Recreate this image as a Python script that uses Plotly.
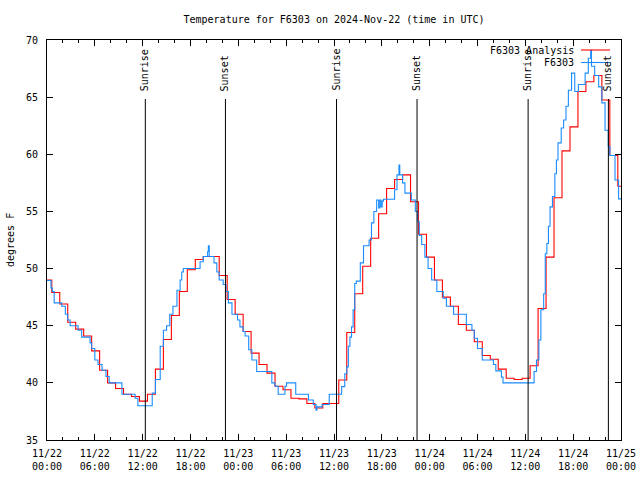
import pandas as pd
import plotly.graph_objects as go

TITLE = "Temperature for F6303 on 2024-Nov-22 (time in UTC)"
START = pd.Timestamp("2024-11-22 00:00")
END = pd.Timestamp("2024-11-25 00:00")

# F6303 Analysis (hourly analysis, values change ~36 min past each hour)
analysis_first_change = "2024-11-22 00:36"
analysis_temp = [
    49.0, 47.9, 46.9, 45.3, 44.7, 44.1, 42.8, 41.1, 40.0, 39.5, 39.0, 38.8,
    38.4, 39.0, 41.2, 43.8, 45.9, 48.0, 49.9, 50.8, 51.05, 51.05, 49.4, 47.3,
    46.0, 44.5, 42.6, 41.6, 40.85, 39.7, 39.4, 38.65, 38.6, 38.2, 37.8, 38.2,
    38.2, 40.25, 44.4, 47.8, 50.2, 52.65, 54.8, 57.0, 57.8, 58.2, 55.85, 53.0,
    51.0, 49.0, 47.5, 46.7, 45.1, 44.6, 43.6, 42.4, 42.06, 41.2, 40.4, 40.3,
    40.4, 41.5, 46.5, 51.0, 56.2, 60.3, 62.4, 65.5, 66.35, 66.9, 64.75, 59.9,
    57.2,
]

# F6303 observations: hours since 11/22 00:00 UTC and temperature (F)
obs_hours = [
    0.0, 0.5, 0.67, 0.9, 1.85, 2.3, 2.6, 2.9, 3.9, 4.35, 5.4, 5.6, 6.0, 6.4,
    6.9, 7.4, 7.8, 9.4, 11.05, 11.4, 13.2, 13.6, 14.2, 14.6, 15.0, 15.4, 15.8,
    16.3, 16.7, 16.9, 17.1, 19.2, 19.6, 20.15, 20.24, 20.35, 20.95, 21.3, 21.6,
    22.1, 22.45, 22.75, 23.2, 23.9, 24.2, 24.6, 24.85, 25.3, 25.7, 26.3, 28.2,
    28.6, 29.0, 29.85, 30.05, 31.2, 32.8, 33.4, 33.75, 33.85, 34.5, 35.4,
    36.96, 37.35, 37.6, 37.8, 38.0, 38.2, 38.4, 38.6, 38.8, 39.3, 39.7, 40.4,
    40.7, 41.0, 41.35, 41.6, 41.75, 41.9, 42.05, 42.2, 43.6, 43.9, 44.15,
    44.25, 44.6, 44.9, 45.7, 46.2, 46.5, 46.7, 47.0, 47.4, 47.8, 48.25, 48.9,
    49.7, 50.1, 51.0, 52.6, 53.3, 53.6, 54.0, 54.6, 56.0, 56.3, 57.0, 57.2,
    61.1, 61.4, 61.7, 61.95, 62.3, 62.5, 62.7, 62.9, 63.1, 63.4, 63.7, 63.9,
    64.1, 64.5, 64.8, 65.1, 65.4, 65.8, 66.2, 66.65, 67.5, 67.9, 68.2, 68.3,
    68.7, 69.2, 69.6, 70.0, 70.4, 70.6, 71.25, 71.7, 72.0,
]
obs_temp = [
    48.95, 48.3, 48.0, 47.0, 46.7, 46.0, 45.5, 45.0, 44.6, 44.0, 43.5, 43.0,
    42.0, 41.6, 41.1, 40.55, 40.0, 39.0, 38.65, 38.0, 39.1, 40.3, 43.2, 44.6,
    45.0, 46.0, 46.7, 48.1, 49.0, 49.7, 50.0, 50.6, 51.05, 51.5, 52.0, 51.05,
    50.5, 49.7, 49.0, 48.6, 48.0, 47.0, 46.0, 45.5, 44.9, 44.5, 44.1, 42.9,
    42.0, 41.0, 40.0, 39.7, 39.0, 39.7, 40.0, 39.0, 38.5, 38.1, 37.6, 37.9,
    38.1, 39.0, 39.67, 40.8, 41.4, 43.2, 44.0, 44.9, 46.4, 48.7, 48.9, 50.5,
    52.0, 52.5, 54.0, 55.0, 56.0, 55.3, 56.0, 55.4, 55.9, 56.06, 56.9, 58.2,
    59.06, 58.2, 57.5, 56.6, 56.0, 55.0, 54.1, 52.9, 52.1, 51.0, 50.0, 49.0,
    48.0, 47.4, 46.7, 46.0, 45.1, 44.6, 43.9, 43.0, 42.0, 41.6, 41.05, 40.5,
    40.0, 41.0, 42.0, 43.75, 46.4, 47.8, 51.3, 52.2, 53.7, 55.4, 56.3, 58.3,
    59.5, 61.0, 62.3, 63.0, 64.2, 65.6, 67.1, 65.5, 66.1, 67.1, 68.4, 69.1,
    67.7, 66.9, 65.9, 64.5, 62.1, 60.7, 59.9, 57.75, 56.1, 56.1,
]

sunrise_times = ["2024-11-22 12:20", "2024-11-23 12:19", "2024-11-24 12:21"]
sunset_times = ["2024-11-22 22:23", "2024-11-23 22:25", "2024-11-24 22:25"]

tick_times = pd.date_range(START, END, freq="6h")
tick_text = [t.strftime("%m/%d") + "<br>" + t.strftime("%H:%M") for t in tick_times]
y_ticks = [35, 40, 45, 50, 55, 60, 65, 70]

FONT = "DejaVu Sans Mono"
RED = "#ff0000"
BLUE = "#1a8cff"

analysis_times = [START] + list(pd.date_range(analysis_first_change, periods=len(analysis_temp) - 1, freq="h"))
analysis_x = analysis_times + [END]
analysis_y = analysis_temp + [analysis_temp[-1]]
obs_x = [START + pd.Timedelta(hours=h) for h in obs_hours]

fig = go.Figure()
fig.add_trace(go.Scatter(x=analysis_x, y=analysis_y, mode="lines", line=dict(color=RED, width=1.1, shape="hv"),
                         showlegend=False))
fig.add_trace(go.Scatter(x=obs_x, y=obs_temp, mode="lines", line=dict(color=BLUE, width=1.1, shape="hv"),
                         showlegend=False))

L, R, T, B = 47, 19, 40, 40
W, H = 640, 480
pw, ph = W - L - R, H - T - B

def px(xp):
    return (xp - L) / pw

def py(yp):
    return (H - B - yp) / ph

line_top = py(99)
shapes = []
annotations = []
for label, times in (("Sunrise", sunrise_times), ("Sunset", sunset_times)):
    for t in times:
        shapes.append(dict(type="line", xref="x", yref="paper", x0=t, x1=t, y0=0, y1=line_top,
                           line=dict(color="black", width=1), layer="above"))
        annotations.append(dict(x=t, xref="x", y=py(93), yref="paper", text=label, textangle=-90,
                                showarrow=False, xanchor="center", yanchor="bottom",
                                font=dict(family=FONT, size=10, color="black")))

# legend (gnuplot style: text on the left, sample line on the right)
for name, color, ypix in (("F6303 Analysis", RED, 50), ("F6303", BLUE, 62.5)):
    annotations.append(dict(x=px(576), xref="paper", y=py(ypix), yref="paper", text=name, showarrow=False,
                            xanchor="right", yanchor="middle", font=dict(family=FONT, size=10, color="black")))
    shapes.append(dict(type="line", xref="paper", yref="paper", x0=px(581), x1=px(610), y0=py(ypix), y1=py(ypix),
                       line=dict(color=color, width=1.1)))

annotations.append(dict(x=px(10), xref="paper", y=0.5, yref="paper", text="degrees F", textangle=-90,
                        showarrow=False, xanchor="center", yanchor="middle",
                        font=dict(family=FONT, size=10, color="black")))

fig.update_layout(
    width=W, height=H,
    margin=dict(l=L, r=R, t=T, b=B, autoexpand=False),
    paper_bgcolor="white", plot_bgcolor="white",
    showlegend=False,
    title=dict(text=TITLE, x=(L + pw / 2) / W, xanchor="center", y=1 - 19 / H, yanchor="middle",
               font=dict(family=FONT, size=10, color="black")),
    font=dict(family=FONT, size=10, color="black"),
    shapes=shapes, annotations=annotations,
)
fig.update_xaxes(range=[START, END], tickvals=list(tick_times), ticktext=tick_text, automargin=False,
                 showgrid=False, zeroline=False, showline=True, linecolor="black", linewidth=1,
                 mirror="allticks", ticks="inside", ticklen=6, tickcolor="black",
                 minor=dict(dtick=2 * 3600 * 1000, ticks="inside", ticklen=3, tickcolor="black", showgrid=False),
                 ticklabelstandoff=4, tickfont=dict(family=FONT, size=10, color="black"))
fig.update_yaxes(range=[35, 70], tickvals=y_ticks, ticktext=[str(v) for v in y_ticks], automargin=False,
                 showgrid=False, zeroline=False, showline=True, linecolor="black", linewidth=1,
                 mirror="allticks", ticks="inside", ticklen=6, tickcolor="black",
                 ticklabelstandoff=6, tickfont=dict(family=FONT, size=10, color="black"))

fig.write_html("out.html")
